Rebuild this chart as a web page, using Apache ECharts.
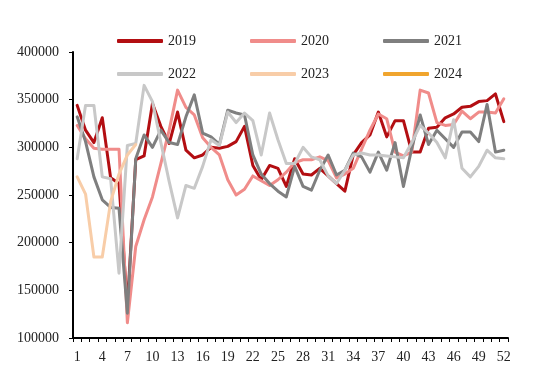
<!DOCTYPE html>
<html>
<head>
<meta charset="utf-8">
<script src="https://cdn.jsdelivr.net/npm/echarts@6/dist/echarts.min.js"></script>
<style>
html,body{margin:0;padding:0;background:#fff;}
#chart{width:550px;height:381px;}
</style>
</head>
<body>
<div id="chart"></div>
<script>
var weeks = [];
for (var w = 1; w <= 52; w++) weeks.push(String(w));

var s2019 = [344000,318000,305000,331000,268000,262000,132000,287000,291000,346000,
  322000,304000,337000,297000,289000,292000,300000,299000,301000,306000,
  322000,281000,266000,281000,278000,259000,288000,272000,271000,278000,
  270000,262000,254000,292000,305000,313000,337000,311000,328000,328000,
  295000,295000,320000,321000,331000,335000,342000,343000,348000,349000,
  356000,327000];
var s2020 = [323000,309000,299000,298000,298000,298000,116000,196000,224000,248000,
  283000,318000,360000,342000,334000,310000,300000,292000,266000,250000,
  256000,270000,265000,260000,266000,274000,284000,287000,287000,290000,
  286000,268000,272000,278000,298000,318000,335000,330000,295000,291000,
  295000,360000,357000,326000,323000,324000,338000,330000,337000,337000,
  336000,351000];
var s2021 = [332000,306000,269000,245000,237000,236000,126000,288000,313000,300000,
  318000,305000,303000,332000,355000,315000,311000,303000,339000,336000,
  334000,292000,272000,262000,254000,248000,280000,259000,255000,276000,
  292000,271000,276000,294000,290000,274000,295000,276000,305000,259000,
  299000,334000,303000,318000,309000,300000,316000,316000,306000,345000,
  295000,297000];
var s2022 = [288000,344000,344000,269000,267000,168000,302000,304000,365000,348000,
  305000,264000,226000,260000,257000,280000,308000,302000,337000,326000,
  336000,328000,292000,336000,308000,283000,283000,300000,290000,287000,
  270000,262000,276000,292000,294000,292000,292000,291000,290000,289000,
  305000,323000,315000,305000,289000,329000,278000,269000,280000,297000,
  289000,288000];
var s2023 = [269000,251000,185000,185000,243000,272000,292000,303000];
var s2024 = [];

var yTicks = [100000,150000,200000,250000,300000,350000,400000];

var names = ['2019','2020','2021','2022','2023','2024'];
var colors = ['#B30E12','#F08C8A','#7F7F7F','#C8C8C8','#F8CDA8','#F0A52E'];
var datas = [s2019,s2020,s2021,s2022,s2023,s2024];

var font = 'Liberation Serif';
var series = names.map(function(n,i){
  return {
    name:n, type:'line', data:datas[i], symbol:'none', smooth:false,
    lineStyle:{width:3,color:colors[i],join:'round',cap:'round'},
    itemStyle:{color:colors[i]},
    animation:false
  };
});

var legendBase = {
  left:112, itemWidth:46, itemHeight:4, itemGap:54, icon:'roundRect',
  textStyle:{fontFamily:font,fontSize:14,color:'#222'}
};
var chart = echarts.init(document.getElementById('chart'),null,{renderer:'canvas'});
chart.setOption({
  animation:false,
  backgroundColor:'#fff',
  color:colors,
  legend:[
    Object.assign({},legendBase,{top:29,data:names.slice(0,3)}),
    Object.assign({},legendBase,{top:62,data:names.slice(3,6)})
  ],
  grid:{left:73,right:42,top:52,bottom:43,containLabel:false},
  xAxis:{
    type:'category', data:weeks, boundaryGap:true,
    axisLine:{lineStyle:{color:'#000',width:2}},
    axisTick:{show:true,interval:0,length:4,lineStyle:{color:'#000',width:1}},
    axisLabel:{interval:2,margin:12,fontFamily:font,fontSize:14,color:'#222'}
  },
  yAxis:{
    type:'value', min:yTicks[0], max:yTicks[yTicks.length-1], interval:50000,
    axisLine:{show:true,lineStyle:{color:'#000',width:2}},
    axisTick:{show:true,length:4,lineStyle:{color:'#000',width:1}},
    splitLine:{show:false},
    axisLabel:{margin:14,fontFamily:font,fontSize:14,color:'#222',
      formatter:function(v){return String(v);}}
  },
  series:series
});
</script>
</body>
</html>
